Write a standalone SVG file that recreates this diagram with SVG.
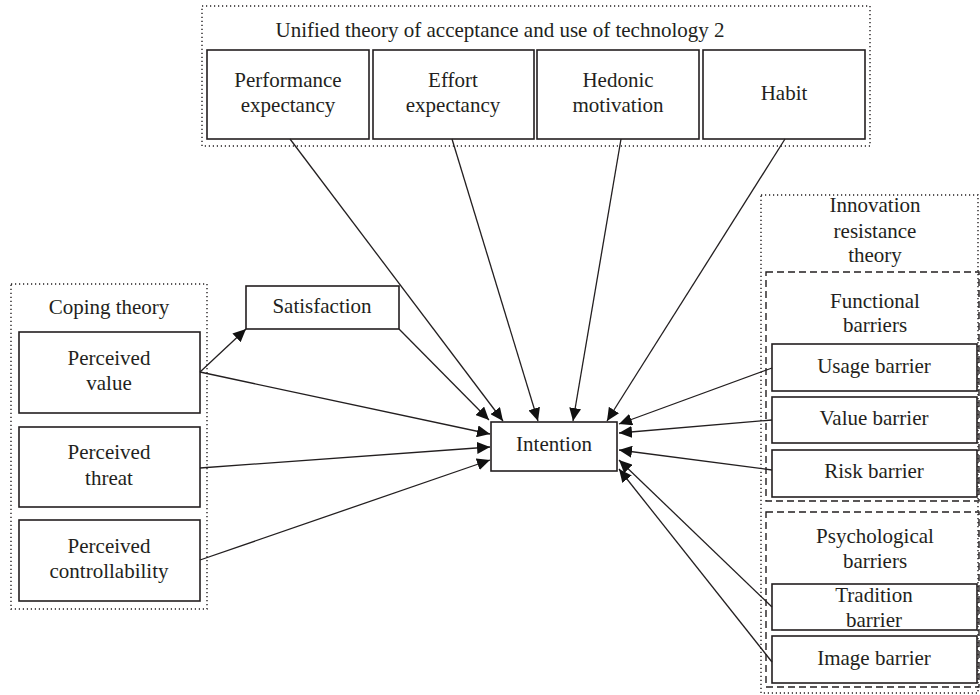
<svg xmlns="http://www.w3.org/2000/svg" width="980" height="695" viewBox="0 0 980 695">
<defs>
<style>
text{font-family:"Liberation Serif","Times New Roman",serif;font-size:21px;fill:#231f20;text-anchor:middle}
.box{fill:#fff;stroke:#231f20;stroke-width:1.6}
.dot{fill:none;stroke:#231f20;stroke-width:1.4;stroke-dasharray:1.2 2.8}
.dash{fill:none;stroke:#231f20;stroke-width:1.4;stroke-dasharray:7 4}
.con{fill:none;stroke:#231f20;stroke-width:1.3;marker-end:url(#ah)}
</style>
<marker id="ah" markerUnits="userSpaceOnUse" markerWidth="14" markerHeight="12" refX="13" refY="6" orient="auto">
<path d="M0,0 L13,6 L0,12 Z" fill="#111"/>
</marker>
</defs>
<rect width="980" height="695" fill="#fff"/>

<g id="utaut2">
<rect class="dot" x="202" y="6" width="668" height="140"/>
<text x="500" y="37">Unified theory of acceptance and use of technology 2</text>
</g>
<g id="performance"><rect class="box" x="207" y="50" width="162" height="89"/><text x="288" y="87">Performance</text><text x="288" y="112">expectancy</text></g>
<g id="effort"><rect class="box" x="373" y="50" width="161" height="89"/><text x="453" y="87">Effort</text><text x="453" y="112">expectancy</text></g>
<g id="hedonic"><rect class="box" x="537" y="50" width="162" height="89"/><text x="618" y="87">Hedonic</text><text x="618" y="112">motivation</text></g>
<g id="habit"><rect class="box" x="703" y="50" width="162" height="89"/><text x="784" y="100">Habit</text></g>

<g id="coping">
<rect class="dot" x="11" y="284" width="196" height="325"/>
<text x="109" y="314">Coping theory</text>
</g>
<g id="pvalue"><rect class="box" x="19" y="332" width="181" height="81"/><text x="109" y="365">Perceived</text><text x="109" y="390">value</text></g>
<g id="pthreat"><rect class="box" x="19" y="427" width="181" height="80"/><text x="109" y="459">Perceived</text><text x="109" y="485">threat</text></g>
<g id="pcontrol"><rect class="box" x="19" y="520" width="181" height="81"/><text x="109" y="553">Perceived</text><text x="109" y="578">controllability</text></g>

<g id="satisfaction"><rect class="box" x="246" y="286" width="153" height="43"/><text x="322" y="313">Satisfaction</text></g>

<g id="intention"><rect class="box" x="491" y="422" width="126" height="49"/><text x="554" y="451">Intention</text></g>

<g id="irt">
<rect class="dot" x="761" y="195" width="217" height="498"/>
<text x="875" y="212">Innovation</text><text x="875" y="238">resistance</text><text x="875" y="262">theory</text>
</g>
<g id="functional">
<rect class="dash" x="766" y="272" width="213" height="229"/>
<text x="875" y="308">Functional</text><text x="875" y="332">barriers</text>
</g>
<g id="usage"><rect class="box" x="772" y="344" width="205" height="47"/><text x="874" y="373">Usage barrier</text></g>
<g id="valueb"><rect class="box" x="772" y="397" width="205" height="46"/><text x="874" y="425">Value barrier</text></g>
<g id="risk"><rect class="box" x="772" y="450" width="205" height="47"/><text x="874" y="478">Risk barrier</text></g>
<g id="psychological">
<rect class="dash" x="766" y="512" width="213" height="175"/>
<text x="875" y="543">Psychological</text><text x="875" y="568">barriers</text>
</g>
<g id="tradition"><rect class="box" x="772" y="584" width="205" height="46"/><text x="874" y="602">Tradition</text><text x="874" y="627">barrier</text></g>
<g id="image"><rect class="box" x="772" y="636" width="205" height="47"/><text x="874" y="665">Image barrier</text></g>

<g id="connectors">
<line class="con" x1="290" y1="139" x2="503" y2="421"/>
<line class="con" x1="452" y1="139" x2="538" y2="421"/>
<line class="con" x1="621" y1="139" x2="573" y2="421"/>
<line class="con" x1="785" y1="139" x2="607" y2="421"/>
<line class="con" x1="399" y1="329" x2="489" y2="420"/>
<line class="con" x1="200" y1="372" x2="246" y2="329"/>
<line class="con" x1="200" y1="372" x2="490" y2="434"/>
<line class="con" x1="200" y1="468" x2="490" y2="447"/>
<line class="con" x1="200" y1="560" x2="490" y2="460"/>
<line class="con" x1="772" y1="368" x2="619" y2="424"/>
<line class="con" x1="772" y1="420" x2="619" y2="433"/>
<line class="con" x1="772" y1="470" x2="619" y2="450"/>
<line class="con" x1="772" y1="607" x2="619" y2="460"/>
<line class="con" x1="772" y1="662" x2="619" y2="469"/>
</g>
</svg>
